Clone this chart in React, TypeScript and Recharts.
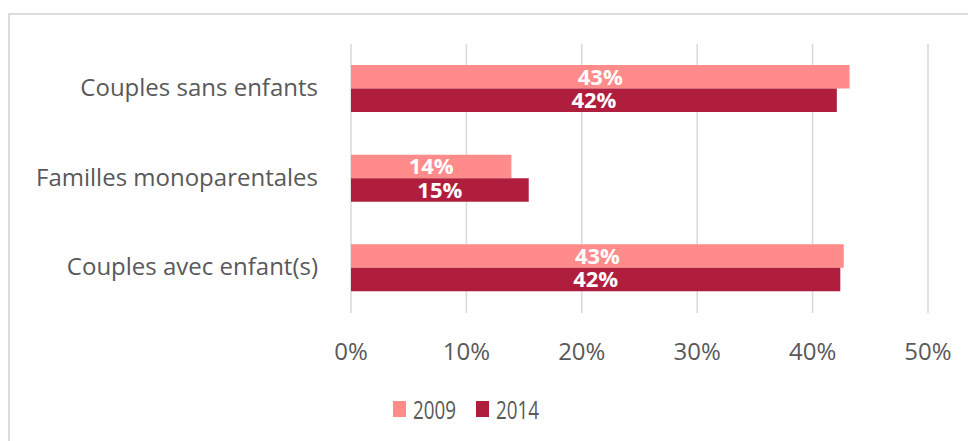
import React from 'react';
import { BarChart, Bar, XAxis, YAxis, CartesianGrid, LabelList, Legend } from 'recharts';

const categories = ['Couples sans enfants', 'Familles monoparentales', 'Couples avec enfant(s)'];
const values2009 = [43.2, 13.9, 42.7];
const values2014 = [42.1, 15.4, 42.4];
const seriesNames = ['2009', '2014'];
const xTicks = [0, 10, 20, 30, 40, 50];

const COLOR_2009 = '#FF8B8A';
const COLOR_2014 = '#B01E3E';
const FONT = '"Open Sans", sans-serif';
const TEXT_COLOR = '#595959';

const data = categories.map((c, i) => ({
  name: c,
  v2009: values2009[i],
  v2014: values2014[i],
}));

const YTick = (props: any) => {
  const { x, y, payload } = props;
  return (
    <text
      x={x - 25}
      y={y}
      dy={7}
      textAnchor="end"
      fill={TEXT_COLOR}
      fontSize={24}
      fontFamily={FONT}
    >
      {payload.value}
    </text>
  );
};

const LegendContent = (props: any) => {
  const payload = props.payload || [];
  return (
    <svg width={180} height={40} style={{ overflow: 'visible' }}>
      {payload.map((entry: any, i: number) => (
        <g key={i}>
          <rect x={i * 83} y={6} width={13} height={16} fill={entry.color} />
          <text
            x={i * 83 + 20}
            y={24}
            fontSize={25}
            fontFamily={FONT}
            fill={TEXT_COLOR}
            textLength={43}
            lengthAdjust="spacingAndGlyphs"
          >
            {entry.value}
          </text>
        </g>
      ))}
    </svg>
  );
};

export default function App() {
  return (
    <div style={{ position: 'fixed', left: 0, top: 0, width: 968, height: 441, overflow: 'hidden', background: '#fff' }}>
      <div
        style={{
          position: 'absolute',
          left: 8,
          top: 13,
          width: 1000,
          height: 500,
          border: '2px solid #dcdcdc',
          boxSizing: 'border-box',
        }}
      />
      <div style={{ position: 'absolute', left: 0, top: 0 }}>
        <BarChart
          width={968}
          height={441}
          data={data}
          layout="vertical"
          margin={{ top: 44, right: 40, bottom: 88, left: 0 }}
          barGap={0}
          barSize={23.5}
        >
          <CartesianGrid horizontal={false} vertical={true} stroke="#d9d9d9" strokeWidth={1.5} />
          <XAxis
            type="number"
            domain={[0, 50]}
            ticks={xTicks}
            tickFormatter={(v: number) => `${v}%`}
            axisLine={false}
            tickLine={false}
            tickSize={0}
            tickMargin={30}
            height={40}
            tick={{ fill: TEXT_COLOR, fontSize: 24, fontFamily: FONT }}
            interval={0}
          />
          <YAxis
            type="category"
            dataKey="name"
            width={351}
            axisLine={false}
            tickLine={false}
            tick={<YTick />}
            interval={0}
          />
          <Legend
            verticalAlign="middle"
            align="center"
            layout="horizontal"
            content={<LegendContent />}
            wrapperStyle={{ position: 'absolute', left: 393, top: 395, width: 180, height: 40 }}
          />
          <Bar dataKey="v2009" name={seriesNames[0]} fill={COLOR_2009} isAnimationActive={false}>
            <LabelList
              dataKey="v2009"
              position="center"
              formatter={(v: any) => `${Math.round(Number(v))}%`}
              fill="#ffffff"
              fontSize={22}
              fontWeight="bold"
              fontFamily={FONT}
            />
          </Bar>
          <Bar dataKey="v2014" name={seriesNames[1]} fill={COLOR_2014} isAnimationActive={false}>
            <LabelList
              dataKey="v2014"
              position="center"
              formatter={(v: any) => `${Math.round(Number(v))}%`}
              fill="#ffffff"
              fontSize={22}
              fontWeight="bold"
              fontFamily={FONT}
            />
          </Bar>
        </BarChart>
      </div>
    </div>
  );
}
